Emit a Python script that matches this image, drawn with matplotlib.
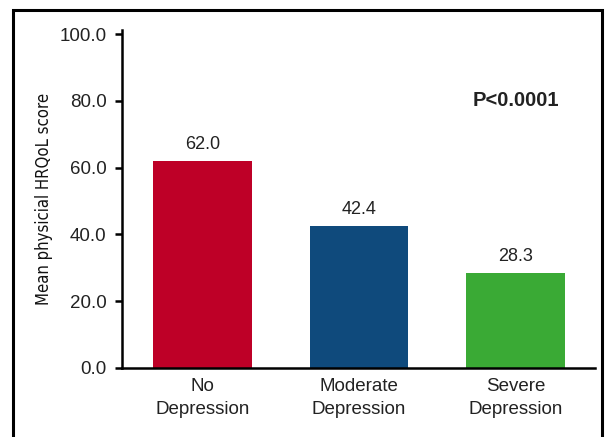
import matplotlib.pyplot as plt
from matplotlib.patches import Rectangle

groups = ['No\nDepression', 'Moderate\nDepression', 'Severe\nDepression']
scores = [62.0, 42.4, 28.3]
colors = ['#BE0027', '#0F4A7C', '#3AAA35']
yticks = [0, 20, 40, 60, 80, 100]

plt.rcParams['font.family'] = ['Liberation Sans', 'DejaVu Sans']

fig = plt.figure(figsize=(6.13, 4.37), dpi=100)
ax = fig.add_axes([0.199, 0.158, 0.772, 0.773])

x = range(len(scores))
ax.bar(x, scores, width=0.63, color=colors)
for xi, v in zip(x, scores):
    ax.text(xi, v + 2.5, f'{v:.1f}', ha='center', va='bottom', fontsize=13, color='#222222')

ax.text(2, 80, 'P<0.0001', ha='center', va='center', fontsize=14.5, fontweight='bold', color='#222222')

ax.set_xlim(-0.515, 2.51)
ax.set_ylim(0, 101.2)
ax.set_xticks(list(x))
ax.set_xticklabels(groups, fontsize=13.5, color='#222222', linespacing=1.5)
ax.set_yticks(yticks)
ax.set_yticklabels([f'{t:.1f}' for t in yticks], fontsize=13.5, color='#222222')
ax.tick_params(axis='x', length=0, pad=7)
ax.tick_params(axis='y', length=5, width=1.8, pad=6)
ax.set_ylabel('Mean physicial HRQoL score', fontsize=12, family='DejaVu Sans',
              fontstretch='condensed', labelpad=5, color='#111111')

for s in ['top', 'right']:
    ax.spines[s].set_visible(False)
for s in ['left', 'bottom']:
    ax.spines[s].set_linewidth(1.8)

# outer frame
fig.patches.append(Rectangle((13 / 613, -0.05), 589 / 613, (427 / 437) + 0.05,
                             transform=fig.transFigure, fill=False,
                             edgecolor='black', linewidth=2.2))

fig.savefig('out.png', dpi=100)
